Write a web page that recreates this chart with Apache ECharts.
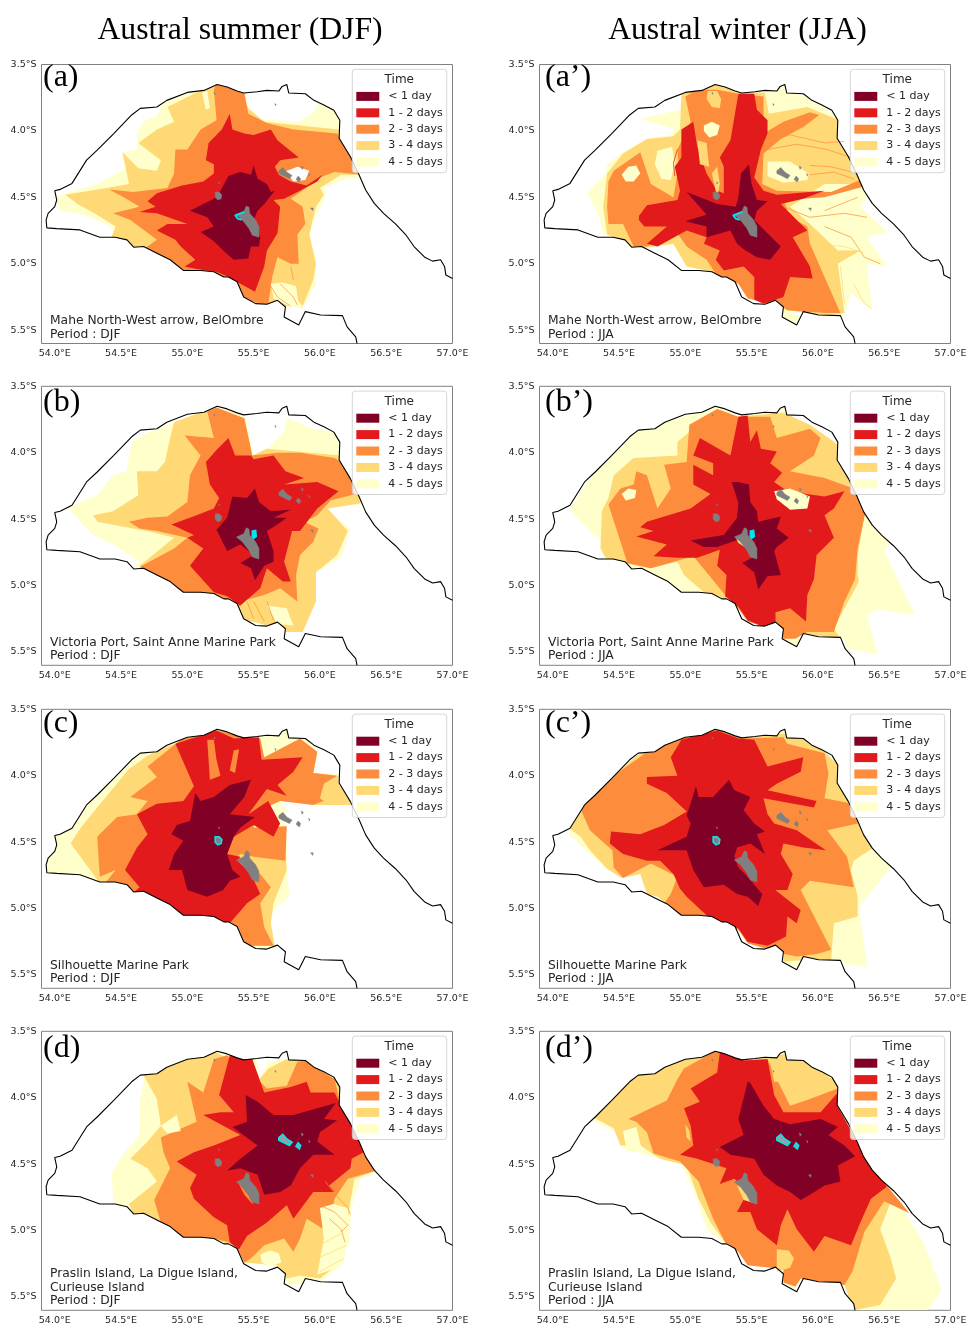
<!DOCTYPE html>
<html><head><meta charset="utf-8">
<script src="https://cdn.jsdelivr.net/npm/echarts@6/dist/echarts.min.js"></script>
<style>html,body{margin:0;padding:0;background:#fff}#c{width:973px;height:1332px}</style>
</head><body><div id="c"></div>
<script>
// All outlines: flat lists of lon (deg E), lat (deg S)
const lonTicks=[54,54.5,55,55.5,56,56.5,57];
const latTicks=[-3.5,-4,-4.5,-5,-5.5];
const bandNames=['4 - 5 days','3 - 4 days','2 - 3 days','1 - 2 days','< 1 day'];
const bandColors=['#ffffcc','#fed976','#fd8d3c','#e31a1c','#800026'];
const legendOrder=['< 1 day','1 - 2 days','2 - 3 days','3 - 4 days','4 - 5 days'];
const WHITE=5, patchColors=bandColors.concat(['#ffffff']);

const boundary=[57,5.11,56.95,5.085,56.94,5.02,56.91,4.97,56.85,4.98,56.79,4.95,56.71,4.87,56.65,4.785,56.57,4.70,56.48,4.62,56.41,4.545,56.345,4.445,56.295,4.33,56.23,4.195,56.145,4.055,56.15,3.92,56.105,3.845,56.03,3.805,55.955,3.77,55.89,3.72,55.765,3.715,55.75,3.65,55.715,3.665,55.69,3.70,55.60,3.695,55.525,3.705,55.425,3.715,55.375,3.70,55.30,3.67,55.225,3.65,55.125,3.695,55.0,3.71,54.845,3.77,54.77,3.82,54.645,3.83,54.58,3.88,54.445,4.02,54.32,4.145,54.24,4.22,54.13,4.395,54.04,4.44,54.0,4.45,54.015,4.52,54.0,4.57,53.95,4.62,53.935,4.67,53.94,4.73,54.015,4.735,54.19,4.745,54.34,4.80,54.39,4.80,54.455,4.80,54.545,4.82,54.595,4.875,54.67,4.87,54.77,4.92,54.87,4.97,54.97,5.05,55.10,5.05,55.20,5.06,55.275,5.10,55.31,5.10,55.375,5.135,55.425,5.25,55.515,5.30,55.60,5.305,55.68,5.275,55.74,5.325,55.73,5.40,55.84,5.46,55.89,5.36,56.005,5.385,56.17,5.39,56.205,5.475,56.27,5.55,56.28,5.60];
const openWater=[57,5.6];

const mahe=[55.445,4.565,55.465,4.575,55.47,4.62,55.515,4.67,55.54,4.72,55.54,4.80,55.49,4.785,55.465,4.735,55.415,4.67,55.37,4.635,55.425,4.61];
const silhouette=[55.21,4.46,55.24,4.46,55.26,4.48,55.255,4.51,55.23,4.52,55.21,4.50];
const praslin=[55.69,4.30,55.72,4.275,55.75,4.31,55.79,4.335,55.77,4.36,55.73,4.34,55.69,4.32];
const laDigue=[55.835,4.34,55.855,4.36,55.845,4.385,55.82,4.365];
const northIsland=[55.235,4.385,55.245,4.39,55.24,4.40];
const felicite=[55.86,4.265,55.875,4.275,55.865,4.29];
const marianne=[55.915,4.32,55.925,4.33,55.92,4.34];
const fregate=[55.93,4.58,55.95,4.58,55.945,4.60];
const birdIsland=[55.20,3.71,55.21,3.715,55.205,3.725];
const denisIsland=[55.66,3.795,55.67,3.80,55.665,3.81];
const islands=[mahe,silhouette,praslin,laDigue,northIsland,felicite,marianne,fregate,birdIsland,denisIsland];

const srcMahe=[55.43,4.61,55.36,4.635,55.38,4.66,55.41,4.67];
const srcVictoria=[55.49,4.59,55.515,4.585,55.52,4.63,55.50,4.645,55.49,4.63];

// (a) Mahe DJF
const a5=[53.99,4.50,54.34,4.39,54.57,4.26,54.51,4.16,54.62,4.14,54.62,4.01,54.68,3.92,54.77,3.89,54.82,3.77,55.0,3.68,55.22,3.62,55.44,3.69,55.45,3.81,55.53,3.91,55.68,3.92,55.85,3.93,55.97,3.84,55.99,3.77,56.11,3.82,56.18,3.92,56.18,4.07,56.36,4.35,56.21,4.36,56.04,4.42,56.04,4.50,55.98,4.62,55.92,4.78,55.97,4.97,55.97,5.15,55.87,5.34,55.78,5.32,55.68,5.32,55.55,5.35,55.40,5.30,55.32,5.15,55.10,5.10,54.95,5.07,54.59,4.92,54.46,4.82,54.42,4.72,54.22,4.63,54.04,4.60,54.0,4.51];
const a4=[54.08,4.48,54.39,4.43,54.56,4.40,54.51,4.16,54.63,4.28,54.77,4.30,54.80,4.22,54.63,4.09,54.77,3.99,54.90,3.93,54.85,3.82,55.07,3.71,55.22,3.66,55.41,3.71,55.46,3.83,55.58,3.93,55.85,3.96,56.14,3.99,56.22,4.14,56.33,4.33,56.16,4.33,56.0,4.43,56.03,4.48,55.97,4.57,55.92,4.78,55.97,5.0,55.95,5.12,55.87,5.32,55.82,5.26,55.75,5.32,55.6,5.32,55.40,5.30,55.32,5.15,55.1,5.1,54.97,5.06,54.59,4.92,54.42,4.82,54.46,4.72,54.30,4.62,54.17,4.55];
const a3=[54.41,4.44,54.59,4.46,54.85,4.43,54.90,4.32,54.91,4.14,55.0,4.14,55.10,3.99,55.22,3.92,55.2,3.69,55.22,3.64,55.43,3.71,55.46,3.87,55.6,3.94,55.8,3.99,56.13,4.02,56.26,4.21,56.32,4.33,56.11,4.31,56.0,4.35,55.84,4.47,55.78,4.51,55.87,4.57,55.89,4.70,55.83,4.78,55.84,5.0,55.78,5.0,55.68,4.95,55.64,5.10,55.61,5.31,55.43,5.27,55.35,5.12,55.1,5.07,54.97,5.06,54.87,4.98,54.67,4.89,54.77,4.82,54.57,4.67,54.44,4.62,54.64,4.57,54.52,4.50];
const a2=[54.70,4.53,54.77,4.47,54.96,4.41,55.12,4.38,55.2,4.32,55.2,4.25,55.14,4.22,55.16,4.09,55.26,3.99,55.32,3.87,55.34,3.99,55.43,4.02,55.5,4.03,55.63,3.99,55.68,4.07,55.74,4.12,55.84,4.20,55.70,4.22,55.66,4.27,55.69,4.33,55.78,4.38,55.9,4.41,56.02,4.33,55.98,4.38,55.85,4.45,55.73,4.51,55.65,4.52,55.70,4.57,55.68,4.77,55.6,4.90,55.58,5.02,55.51,5.21,55.4,5.15,55.31,5.10,55.22,5.06,55.07,5.04,54.98,5.02,55.06,4.97,54.95,4.87,54.91,4.82,54.77,4.75,54.85,4.70,55.0,4.70,54.77,4.62,54.64,4.61,54.76,4.57];
const a1=[55.02,4.60,55.12,4.55,55.2,4.51,55.25,4.45,55.31,4.34,55.4,4.31,55.48,4.33,55.5,4.26,55.53,4.36,55.6,4.40,55.63,4.46,55.66,4.45,55.58,4.55,55.53,4.60,55.5,4.67,55.55,4.80,55.54,4.87,55.48,4.87,55.46,4.96,55.35,4.97,55.27,4.90,55.2,4.83,55.1,4.76,55.2,4.72,55.15,4.65];
const aPatches=[[WHITE,[55.73,4.31,55.83,4.27,55.92,4.30,55.89,4.37,55.80,4.38,55.76,4.33]],[0,[55.11,3.71,55.15,3.70,55.17,3.83,55.14,3.84]],[0,[55.63,5.15,55.72,5.14,55.82,5.17,55.84,5.31,55.75,5.31,55.65,5.26]]];
const aStrands=[[2,[55.63,5.17,55.68,5.25,55.78,5.32]],[2,[55.70,5.15,55.80,5.25,55.83,5.31]],[2,[55.80,5.12,55.78,5.02]]];
// (a') Mahe JJA
const ap5=[54.26,4.46,54.40,4.32,54.41,4.25,54.53,4.16,54.71,4.06,54.89,4.03,54.92,3.99,54.66,3.91,54.96,3.84,54.97,3.74,55.09,3.67,55.24,3.64,55.44,3.71,55.62,3.71,55.74,3.64,55.77,3.71,55.89,3.73,56.05,3.82,56.16,3.92,56.16,4.06,56.26,4.22,56.34,4.40,56.37,4.50,56.32,4.57,56.52,4.76,56.37,4.80,56.52,5.02,56.37,5.0,56.41,5.35,56.25,5.22,56.20,5.37,56.17,5.40,55.77,5.35,55.87,5.40,55.83,5.46,55.74,5.40,55.72,5.32,55.62,5.30,55.47,5.26,55.40,5.15,55.29,5.10,55.16,5.05,55.01,5.02,54.91,4.86,54.79,4.87,54.61,4.89,54.53,4.82,54.38,4.78,54.35,4.65];
const ap4=[54.38,4.57,54.41,4.32,54.53,4.17,54.71,4.06,54.91,4.04,54.96,3.99,54.97,3.73,55.09,3.67,55.24,3.64,55.40,3.71,55.60,3.71,55.63,3.87,55.92,3.82,56.16,3.92,56.16,4.06,56.34,4.40,56.05,4.40,55.79,4.57,55.94,4.70,56.15,4.90,56.32,4.90,56.15,5.0,56.20,5.37,56.05,5.39,55.77,5.35,55.72,5.32,55.47,5.26,55.40,5.15,55.16,5.05,55.01,5.02,54.91,4.85,54.61,4.89,54.53,4.82,54.41,4.78];
const ap3=[54.41,4.57,54.42,4.38,54.46,4.30,54.66,4.16,54.74,4.40,54.91,4.50,54.95,4.27,54.94,4.14,55.04,3.93,55.0,3.74,55.09,3.69,55.24,3.69,55.40,3.72,55.59,3.74,55.59,4.02,55.74,3.93,55.94,3.86,56.01,3.88,55.89,3.97,55.72,4.06,55.59,4.17,55.58,4.40,55.69,4.45,56.10,4.46,56.34,4.36,56.34,4.42,56.05,4.50,55.74,4.52,55.79,4.65,55.92,4.72,55.94,4.85,56.05,5.10,56.17,5.37,56.05,5.37,55.77,5.35,55.72,5.32,55.47,5.26,55.40,5.15,55.24,5.09,55.16,4.97,55.01,4.87,54.94,4.77,54.81,4.82,54.71,4.87,54.61,4.87,54.53,4.70,54.42,4.70];
const ap2=[54.65,4.64,54.71,4.56,54.94,4.52,54.96,4.45,54.92,4.27,54.97,4.20,54.97,3.99,55.06,3.93,55.09,4.12,55.16,4.32,55.24,4.45,55.29,4.47,55.29,4.27,55.26,4.20,55.34,4.07,55.40,3.72,55.52,3.72,55.54,3.84,55.62,3.92,55.62,4.02,55.57,4.14,55.52,4.35,55.59,4.45,55.69,4.48,56.05,4.45,55.89,4.51,55.72,4.55,55.79,4.62,55.92,4.75,55.81,4.80,55.94,5.02,55.96,5.11,55.79,5.10,55.74,5.25,55.59,5.30,55.52,5.27,55.52,5.10,55.44,5.02,55.29,5.05,55.23,4.97,55.26,4.90,55.14,4.85,55.16,4.80,55.01,4.75,54.79,4.87,54.71,4.85,54.86,4.72,54.69,4.72,54.65,4.67];
const ap1=[55.0,4.68,55.16,4.63,55.01,4.46,55.24,4.55,55.38,4.57,55.40,4.50,55.42,4.32,55.48,4.25,55.50,4.40,55.54,4.52,55.62,4.53,55.54,4.60,55.52,4.67,55.62,4.77,55.72,4.87,55.64,4.97,55.54,4.95,55.44,4.89,55.39,4.85,55.34,4.75,55.16,4.80,55.16,4.72];
const apPatches=[[0,[55.62,4.23,55.79,4.23,55.93,4.32,55.92,4.37,55.74,4.39,55.62,4.34]],[1,[55.17,3.70,55.24,3.70,55.27,3.76,55.26,3.83,55.20,3.82,55.16,3.76]],[0,[55.14,3.96,55.20,3.93,55.26,3.96,55.24,4.03,55.18,4.05,55.14,4.0]],[1,[55.09,4.07,55.16,4.09,55.18,4.27,55.11,4.25]],[1,[55.24,4.27,55.26,4.40,55.24,4.50,55.20,4.32]],[0,[54.52,4.33,54.57,4.27,54.63,4.26,54.66,4.32,54.61,4.38,54.55,4.38]],[0,[54.77,4.25,54.79,4.15,54.90,4.12,54.92,4.25,54.89,4.37,54.82,4.36]]];
const apStrands=[[2,[55.59,4.08,55.79,4.03,56.05,4.09,56.20,4.08]],[2,[55.62,4.14,55.84,4.10,56.07,4.14,56.25,4.20]],[2,[55.94,4.26,56.10,4.27,56.30,4.32]],[2,[55.94,4.33,56.12,4.31,56.27,4.36]],[2,[55.74,4.57,55.94,4.65,56.20,4.62,56.37,4.65]],[2,[56.05,4.72,56.25,4.80,56.35,4.95,56.47,5.0]],[1,[55.94,4.85,56.20,4.87,56.35,4.92]],[1,[56.17,5.02,56.20,5.30]],[1,[56.27,5.15,56.35,5.30,56.40,5.33]],[2,[56.05,4.60,56.30,4.50]],[3,[54.94,4.14,54.91,4.24,54.92,4.34]]];
// (b) Victoria DJF
const b5=[54.10,4.41,54.32,4.32,54.44,4.17,54.54,4.14,54.58,3.92,54.70,3.85,54.90,3.77,55.15,3.67,55.22,3.65,55.44,3.73,55.50,4.04,55.60,3.97,55.73,3.84,55.75,3.74,55.95,3.82,56.11,3.84,56.16,3.97,56.29,4.32,56.31,4.39,56.03,4.42,56.23,4.57,56.16,4.79,55.97,4.90,55.97,5.12,55.85,5.35,55.75,5.35,55.60,5.28,55.43,5.26,55.38,5.15,54.97,5.05,54.85,4.97,54.59,4.85,54.64,4.82,54.44,4.69,54.29,4.62,54.19,4.52];
const b4=[54.29,4.47,54.44,4.44,54.63,4.32,54.62,4.14,54.77,4.14,54.83,4.07,54.87,3.89,54.90,3.77,55.12,3.69,55.22,3.67,55.43,3.74,55.49,4.02,55.60,3.97,56.16,4.02,56.26,4.22,56.31,4.38,56.06,4.42,56.21,4.59,56.13,4.77,55.97,4.90,55.97,5.12,55.87,5.35,55.75,5.35,55.53,5.28,55.43,5.26,55.38,5.15,54.97,5.05,54.85,4.97,54.64,4.85,54.90,4.64,54.70,4.59,54.59,4.57,54.32,4.52];
const b3=[54.56,4.52,54.70,4.49,54.85,4.48,55.0,4.37,55.02,4.17,55.10,4.02,54.98,3.87,55.20,3.89,55.15,3.69,55.22,3.66,55.43,3.74,55.49,4.02,55.68,4.0,55.85,4.0,56.11,4.04,56.16,4.07,56.26,4.22,56.27,4.31,56.08,4.36,55.98,4.47,55.88,4.52,55.99,4.57,55.95,4.67,55.85,4.77,55.82,4.92,55.83,5.12,55.70,5.02,55.58,5.07,55.40,5.12,55.40,5.16,55.22,5.10,54.97,5.05,54.85,4.98,54.64,4.86,54.90,4.72,55.0,4.64,54.77,4.59,54.64,4.57];
const b2=[54.88,4.54,55.07,4.47,55.20,4.42,55.24,4.34,55.17,4.24,55.14,4.07,55.22,3.98,55.31,3.89,55.36,4.02,55.48,4.02,55.50,4.05,55.65,4.02,55.74,4.14,55.88,4.19,55.73,4.24,55.98,4.22,56.14,4.29,55.98,4.42,55.85,4.59,55.79,4.59,55.73,4.82,55.78,4.97,55.72,4.97,55.60,4.87,55.55,5.02,55.40,5.15,55.30,5.08,55.20,5.05,55.02,4.85,55.12,4.72,55.0,4.64,55.05,4.62];
const b1=[55.22,4.58,55.30,4.49,55.34,4.33,55.45,4.34,55.51,4.27,55.54,4.37,55.63,4.44,55.78,4.43,55.65,4.49,55.75,4.49,55.68,4.54,55.60,4.59,55.65,4.74,55.65,4.82,55.58,4.85,55.51,4.96,55.48,4.87,55.40,4.83,55.50,4.77,55.40,4.69,55.30,4.74];
const bPatches=[[0,[55.60,5.15,55.75,5.17,55.80,5.30,55.68,5.29]]];
const bStrands=[[2,[55.50,5.12,55.58,5.27]],[2,[55.45,5.12,55.50,5.25]],[2,[55.60,5.12,55.65,5.26]]];
// (b') Victoria JJA
const bp5=[54.13,4.42,54.28,4.19,54.63,3.84,54.94,3.74,55.24,3.65,55.40,3.73,55.74,3.65,55.78,3.73,55.94,3.79,56.15,3.93,56.15,4.08,56.27,4.27,56.37,4.47,56.55,4.67,56.50,4.74,56.73,5.22,56.45,5.18,56.37,5.22,56.45,5.52,56.21,5.47,56.20,5.40,55.84,5.37,55.87,5.42,55.83,5.46,55.74,5.40,55.72,5.35,55.62,5.30,55.47,5.27,55.40,5.17,55.29,5.12,55.14,5.07,54.97,5.05,54.86,4.97,54.71,4.90,54.48,4.85,54.38,4.79,54.36,4.67,54.18,4.49];
const bp4=[54.36,4.72,54.37,4.44,54.42,4.34,54.46,4.17,54.61,4.04,54.94,4.02,54.94,3.92,55.24,3.67,55.39,3.73,55.74,3.70,55.94,3.79,56.15,3.94,56.15,4.07,56.27,4.27,56.36,4.42,56.30,4.77,56.30,4.92,56.31,4.97,56.12,5.32,56.17,5.40,55.84,5.36,55.74,5.40,55.72,5.35,55.47,5.27,55.40,5.17,55.29,5.10,55.14,5.05,54.99,4.92,54.94,4.82,54.74,4.87,54.53,4.83,54.40,4.79];
const bp3=[54.56,4.82,54.42,4.39,54.51,4.27,54.61,4.24,54.63,4.14,54.71,4.17,54.79,4.42,54.89,4.27,54.84,4.09,55.01,4.07,55.03,3.79,55.24,3.67,55.40,3.73,55.64,3.73,55.69,3.89,55.94,3.82,56.02,3.89,55.97,4.02,55.79,4.14,56.05,4.19,56.27,4.27,56.36,4.44,56.30,4.72,56.28,4.95,56.20,5.12,56.12,5.35,55.92,5.35,55.83,5.40,55.74,5.40,55.72,5.35,55.47,5.27,55.40,5.17,55.30,5.07,55.16,4.90,55.06,4.78,54.74,4.87,54.56,4.83];
const bp2=[54.66,4.56,54.71,4.52,55.04,4.42,55.19,4.31,55.06,4.24,55.06,4.09,55.21,4.17,55.21,4.08,55.06,4.02,55.11,3.89,55.34,4.02,55.40,3.73,55.47,3.72,55.49,3.92,55.54,3.83,55.57,3.97,55.69,3.99,55.64,4.08,55.73,4.15,55.67,4.22,55.77,4.29,56.05,4.33,56.20,4.29,56.12,4.42,56.05,4.47,56.12,4.64,55.99,4.77,55.97,4.95,55.92,5.07,55.91,5.27,55.79,5.17,55.68,5.20,55.68,5.28,55.59,5.31,55.47,5.26,55.40,5.16,55.30,5.08,55.31,4.92,55.24,4.85,55.26,4.73,55.09,4.79,54.94,4.79,54.76,4.78,54.86,4.69,54.63,4.63,54.76,4.59];
const bp1=[55.04,4.66,55.29,4.62,55.39,4.49,55.40,4.38,55.35,4.22,55.40,4.22,55.48,4.24,55.49,4.37,55.54,4.44,55.55,4.52,55.72,4.48,55.69,4.57,55.78,4.64,55.69,4.71,55.67,4.74,55.72,4.92,55.62,4.93,55.55,5.03,55.52,4.90,55.43,4.83,55.54,4.77,55.52,4.67,55.38,4.66,55.24,4.71,55.14,4.71];
const bpPatches=[[0,[55.67,4.29,55.79,4.27,55.94,4.33,55.92,4.42,55.79,4.43,55.69,4.35]],[0,[54.52,4.31,54.57,4.27,54.63,4.28,54.62,4.34,54.55,4.36]],[1,[55.38,4.64,55.47,4.69,55.48,4.73,55.40,4.68]]];
const bpStrands=[];
// (c) Silhouette DJF
const c5=[53.91,4.76,53.91,4.59,54.02,4.41,54.22,4.24,54.44,4.01,54.64,3.82,55.0,3.68,55.22,3.63,55.40,3.70,55.60,3.67,55.75,3.63,55.78,3.71,55.89,3.71,55.98,3.82,55.95,3.98,56.14,3.98,56.14,4.06,56.26,4.22,55.98,4.22,55.70,4.19,55.75,4.26,55.73,4.36,55.75,4.51,55.75,4.71,55.77,4.91,55.65,5.01,55.61,5.14,55.66,5.28,55.60,5.31,55.44,5.28,55.38,5.14,55.20,5.08,54.97,5.06,54.77,4.94,54.59,4.89,54.34,4.81,53.96,4.74];
const c4=[54.34,4.81,54.12,4.51,54.19,4.40,54.32,4.24,54.56,3.95,54.70,3.85,54.85,3.78,55.22,3.65,55.40,3.70,55.55,3.73,55.58,3.87,55.85,3.73,55.98,3.83,55.95,3.98,56.14,4.0,56.14,4.06,56.24,4.22,55.98,4.22,55.68,4.16,55.53,4.27,55.40,4.39,55.73,4.41,55.75,4.71,55.65,4.96,55.63,5.11,55.66,5.28,55.44,5.28,55.38,5.14,54.97,5.06,54.77,4.94,54.59,4.89,54.39,4.82];
const c3=[54.34,4.76,54.32,4.46,54.47,4.31,54.62,4.29,54.70,4.19,54.57,4.16,54.77,4.01,54.70,3.93,54.85,3.81,54.95,3.73,55.22,3.66,55.40,3.70,55.55,3.72,55.58,3.86,55.85,3.72,55.98,3.82,55.95,3.98,56.13,4.0,56.03,4.06,56.0,4.17,56.03,4.19,55.95,4.22,55.70,4.19,55.53,4.27,55.50,4.39,55.75,4.38,55.74,4.64,55.50,4.61,55.40,4.59,55.35,4.64,55.55,4.74,55.63,4.84,55.55,4.96,55.58,5.14,55.65,5.28,55.44,5.28,55.38,5.14,54.97,5.05,54.77,4.94,54.59,4.89,54.37,4.82,54.46,4.71];
const c2=[54.53,4.71,54.62,4.54,54.70,4.44,54.62,4.29,54.77,4.21,54.97,4.19,55.05,4.08,54.91,3.76,55.10,3.70,55.22,3.66,55.35,3.72,55.54,3.71,55.56,3.88,55.87,3.86,55.80,3.97,55.68,4.07,55.75,4.15,55.60,4.10,55.46,4.29,55.61,4.19,55.70,4.36,55.65,4.46,55.50,4.37,55.35,4.46,55.30,4.59,55.40,4.61,55.38,4.64,55.48,4.74,55.55,4.89,55.45,4.96,55.32,5.11,55.20,5.08,54.97,5.05,54.77,4.94,54.59,4.88,54.64,4.84];
const c1=[54.86,4.71,54.90,4.59,54.97,4.49,54.88,4.44,54.92,4.37,55.02,4.34,55.06,4.13,55.10,4.19,55.20,4.16,55.32,4.07,55.48,4.03,55.43,4.16,55.32,4.29,55.51,4.31,55.40,4.39,55.35,4.46,55.30,4.59,55.34,4.71,55.40,4.76,55.32,4.79,55.27,4.86,55.15,4.91,55.0,4.86,54.96,4.71];
const cPatches=[[2,[55.15,3.73,55.20,3.73,55.22,3.88,55.25,4.0,55.17,4.03]],[2,[55.35,3.81,55.39,3.80,55.36,3.98,55.32,3.96]]];
const cStrands=[];
// (c') Silhouette JJA
const cp5=[54.13,4.40,54.26,4.21,54.43,4.03,54.63,3.85,54.94,3.73,55.24,3.65,55.42,3.72,55.74,3.65,55.77,3.72,55.89,3.72,56.05,3.82,56.16,3.92,56.16,4.07,56.26,4.21,56.35,4.41,56.45,4.59,56.55,4.69,56.31,4.99,56.37,5.44,56.17,5.41,55.84,5.39,55.87,5.41,55.84,5.46,55.74,5.40,55.74,5.34,55.62,5.29,55.47,5.26,55.40,5.16,55.29,5.11,55.14,5.05,54.97,5.05,54.79,4.91,54.71,4.89,54.66,4.74,54.53,4.77,54.41,4.71,54.28,4.59,54.13,4.45];
const cp4=[54.13,4.40,54.27,4.18,54.43,4.03,54.63,3.85,54.94,3.73,55.24,3.65,55.42,3.72,55.76,3.68,55.89,3.72,56.05,3.82,56.16,3.93,56.16,4.07,56.26,4.22,56.34,4.40,56.42,4.54,56.27,4.64,56.25,4.71,56.30,4.91,56.30,5.06,56.12,5.11,56.10,5.39,55.84,5.39,55.74,5.40,55.74,5.34,55.47,5.26,55.40,5.16,55.14,5.05,54.97,5.05,54.79,4.91,54.71,4.89,54.66,4.74,54.52,4.77,54.41,4.70,54.28,4.56,54.21,4.46];
const cp3=[54.45,4.56,54.28,4.41,54.21,4.25,54.31,4.10,54.53,3.95,54.74,3.80,54.94,3.73,55.24,3.65,55.42,3.72,55.74,3.71,55.77,3.76,56.05,3.83,56.08,3.98,56.05,4.17,56.26,4.21,56.30,4.36,56.07,4.41,56.22,4.61,56.27,4.84,55.94,4.79,55.87,4.86,56.10,5.31,56.0,5.34,55.84,5.36,55.74,5.34,55.47,5.26,55.40,5.16,55.14,5.05,54.97,5.05,54.84,4.96,54.89,4.89,54.94,4.76,54.74,4.66,54.53,4.77,54.46,4.69];
const cp2=[54.44,4.42,54.66,4.44,54.84,4.37,55.01,4.27,54.86,4.13,54.71,4.06,54.71,4.01,54.94,4.0,54.89,3.86,54.97,3.73,55.24,3.66,55.40,3.72,55.52,3.73,55.62,3.93,55.89,3.86,55.87,3.97,55.69,4.06,55.62,4.11,55.99,4.19,55.97,4.24,55.59,4.17,55.62,4.29,55.67,4.36,55.84,4.41,56.06,4.56,55.89,4.54,55.74,4.51,55.72,4.59,55.81,4.74,55.77,4.86,55.67,4.86,55.59,4.79,55.87,5.01,55.84,5.11,55.77,5.06,55.76,5.21,55.62,5.28,55.47,5.25,55.40,5.15,55.29,5.11,55.16,5.05,55.01,4.91,54.96,4.85,54.91,4.74,54.81,4.64,54.71,4.64,54.53,4.59,54.43,4.51];
const cp1=[54.79,4.56,55.01,4.46,55.04,4.36,55.01,4.30,55.08,4.08,55.10,4.16,55.21,4.16,55.33,4.03,55.37,4.11,55.49,4.16,55.44,4.26,55.52,4.36,55.60,4.42,55.54,4.44,55.60,4.59,55.49,4.51,55.39,4.54,55.37,4.61,55.40,4.69,55.45,4.74,55.52,4.82,55.58,4.89,55.55,4.98,55.47,4.91,55.39,4.89,55.29,4.82,55.14,4.84,55.06,4.71,55.01,4.56];
const cpPatches=[];
const cpStrands=[];
// (d) Praslin DJF
const d5=[54.44,4.76,54.43,4.56,54.53,4.41,54.64,4.28,54.64,4.03,54.68,3.83,55.0,3.71,55.22,3.64,55.35,3.68,55.53,3.71,55.54,3.86,55.61,3.73,55.73,3.71,55.89,3.72,56.0,3.79,56.11,3.83,56.16,3.96,56.16,4.06,56.26,4.21,56.35,4.43,56.42,4.56,56.31,4.61,56.24,4.81,56.23,4.96,56.18,5.24,56.0,5.39,55.75,5.41,55.74,5.32,55.68,5.27,55.43,5.24,55.38,5.14,55.20,5.06,54.97,5.05,54.77,4.92,54.59,4.87,54.44,4.81];
const d4=[54.56,4.80,54.77,4.63,54.70,4.53,54.57,4.46,54.70,4.33,54.80,4.21,54.77,4.01,54.67,3.83,54.85,3.77,55.0,3.71,55.22,3.66,55.35,3.73,55.53,3.88,55.61,3.78,55.75,3.71,55.89,3.72,56.0,3.81,56.11,3.83,56.16,3.96,56.16,4.06,56.26,4.21,56.35,4.43,56.42,4.55,56.26,4.61,56.23,4.78,56.21,4.91,56.13,5.26,56.0,5.36,55.85,5.34,55.75,5.36,55.68,5.26,55.43,5.24,55.38,5.14,55.20,5.06,54.97,5.05,54.77,4.92,54.59,4.87];
const d3=[54.75,4.77,54.87,4.53,54.82,4.41,54.80,4.30,55.07,4.18,55.0,3.88,55.12,3.96,55.20,3.71,55.30,3.68,55.53,3.86,55.60,3.93,55.75,3.91,55.83,3.73,55.89,3.72,56.0,3.79,56.11,3.86,56.16,4.06,56.26,4.21,56.35,4.43,56.42,4.55,56.21,4.61,56.11,4.76,56.06,5.01,55.98,4.96,55.90,4.91,55.85,5.06,55.80,5.16,55.73,5.06,55.58,5.11,55.48,5.21,55.43,5.24,55.38,5.14,55.32,5.09,55.20,5.06,54.97,5.05,54.80,4.94];
const d2=[54.92,4.48,55.05,4.41,55.20,4.36,55.40,4.28,55.12,4.13,55.25,4.11,55.35,4.11,55.24,3.98,55.32,3.68,55.48,3.68,55.58,3.96,55.78,3.92,55.90,3.88,55.93,3.96,56.11,3.96,56.16,4.06,56.26,4.21,56.33,4.41,56.24,4.46,56.23,4.53,56.07,4.66,56.11,4.71,55.95,4.71,55.80,4.91,55.75,4.81,55.60,4.94,55.45,5.04,55.39,5.14,55.32,5.09,55.30,4.96,55.20,4.90,55.05,4.76,55.02,4.68,55.07,4.58];
const d1=[55.30,4.55,55.40,4.46,55.53,4.36,55.34,4.22,55.45,4.18,55.44,3.98,55.53,4.03,55.65,4.13,55.80,4.13,55.98,4.08,56.12,4.04,56.03,4.16,56.13,4.17,56.0,4.26,55.98,4.33,56.11,4.43,55.95,4.43,55.85,4.53,55.78,4.66,55.70,4.71,55.58,4.73,55.53,4.58,55.40,4.53];
const dPatches=[[0,[54.80,4.21,54.92,4.13,54.95,4.25,54.85,4.27]],[0,[55.55,5.18,55.62,5.15,55.69,5.17,55.71,5.24,55.62,5.27,55.56,5.24]],[2,[55.38,4.63,55.46,4.73,55.50,4.81,55.43,4.73]],[0,[56.0,4.83,56.10,4.80,56.21,4.83,56.23,5.06,56.13,5.28,55.98,5.33,56.03,5.06]]];
const dStrands=[[2,[56.04,4.63,56.11,4.72,56.21,4.83,56.23,4.88]],[2,[56.0,4.81,56.11,4.86,56.21,4.96,56.16,5.01]],[2,[56.07,4.91,56.16,4.99,56.19,5.09]],[1,[56.0,5.11,56.18,5.01]],[1,[55.98,5.21,56.20,5.11]],[1,[56.0,5.31,56.18,5.21]]];
// (d') Praslin JJA
const dp5=[54.28,4.16,54.63,3.83,54.94,3.68,55.24,3.64,55.44,3.72,55.74,3.66,55.77,3.72,55.94,3.73,56.15,3.88,56.15,4.06,56.34,4.41,56.52,4.66,56.68,4.90,56.80,5.10,56.90,5.36,56.93,5.45,56.83,5.60,56.30,5.60,56.25,5.51,56.20,5.41,55.87,5.36,55.83,5.44,55.74,5.39,55.74,5.29,55.47,5.26,55.40,5.16,55.29,5.09,55.16,4.99,55.09,4.76,54.96,4.48,54.81,4.46,54.53,4.38,54.51,4.28,54.38,4.21];
const dp4=[54.29,4.14,54.63,3.83,54.94,3.71,55.24,3.64,55.44,3.72,55.74,3.67,55.94,3.74,56.15,3.89,56.15,4.07,56.34,4.41,56.52,4.66,56.55,4.78,56.47,4.99,56.55,5.21,56.59,5.36,56.47,5.56,56.27,5.60,56.20,5.41,55.87,5.36,55.83,5.42,55.74,5.39,55.74,5.29,55.47,5.26,55.40,5.16,55.30,5.09,55.19,4.94,55.10,4.76,55.01,4.51,54.81,4.46,54.66,4.36,54.51,4.36,54.46,4.23];
const dp3=[54.57,4.16,54.86,4.02,54.94,3.86,54.99,3.78,55.24,3.64,55.44,3.72,55.62,3.71,55.69,3.86,55.79,4.06,55.94,4.01,56.15,3.93,56.15,4.07,56.34,4.41,56.52,4.66,56.69,4.87,56.50,4.78,56.35,5.01,56.26,5.31,56.20,5.41,55.87,5.36,55.83,5.42,55.74,5.39,55.74,5.29,55.47,5.26,55.40,5.16,55.30,5.09,55.21,4.91,55.10,4.63,54.96,4.48,54.76,4.42,54.71,4.26,54.63,4.18];
const dp2=[54.96,4.43,55.06,4.36,55.04,4.21,54.99,4.08,55.11,4.03,55.04,3.93,55.24,3.81,55.26,3.66,55.44,3.72,55.62,3.71,55.67,3.98,55.74,4.11,56.02,4.11,56.15,3.96,56.15,4.07,56.34,4.41,56.52,4.67,56.40,4.76,56.32,4.94,56.25,5.11,56.05,5.04,55.97,5.16,55.84,4.99,55.77,4.84,55.72,4.96,55.69,5.11,55.54,4.99,55.49,4.86,55.39,4.86,55.47,4.71,55.37,4.61,55.26,4.65,55.31,4.53,55.09,4.46];
const dp1=[55.26,4.37,55.44,4.28,55.40,4.16,55.47,3.88,55.49,3.89,55.59,4.06,55.67,4.16,55.79,4.20,56.02,4.16,56.15,4.22,56.08,4.28,56.20,4.36,56.28,4.44,56.15,4.51,56.17,4.63,56.05,4.66,55.94,4.73,55.87,4.77,55.79,4.71,55.69,4.66,55.59,4.58,55.52,4.46,55.34,4.43];
const dpPatches=[[1,[55.69,5.14,55.78,5.15,55.82,5.21,55.79,5.28,55.69,5.31]],[1,[55.64,3.73,55.79,3.73,55.84,3.89,55.67,3.88]],[1,[55.0,4.20,55.03,4.25,55.04,4.33,55.01,4.30]],[0,[54.53,4.25,54.63,4.22,54.67,4.38,54.56,4.41]],[1,[55.39,4.66,55.52,4.72,55.54,4.80,55.44,4.77]]];
const dpStrands=[];

const columnTitles=['Austral summer (DJF)','Austral winter (JJA)'];
const siteLines={
 mahe:['Mahe North-West arrow, BelOmbre'],
 victoria:['Victoria Port, Saint Anne Marine Park'],
 silhouette:['Silhouette Marine Park'],
 praslin:['Praslin Island, La Digue Island,','Curieuse Island']};
const panels=[
 {tag:'(a)',site:'mahe',period:'DJF',col:0,row:0,bands:[a5,a4,a3,a2,a1],patches:aPatches,strands:aStrands},
 {tag:'(a’)',site:'mahe',period:'JJA',col:1,row:0,bands:[ap5,ap4,ap3,ap2,ap1],patches:apPatches,strands:apStrands},
 {tag:'(b)',site:'victoria',period:'DJF',col:0,row:1,bands:[b5,b4,b3,b2,b1],patches:bPatches,strands:bStrands},
 {tag:'(b’)',site:'victoria',period:'JJA',col:1,row:1,bands:[bp5,bp4,bp3,bp2,bp1],patches:bpPatches,strands:bpStrands},
 {tag:'(c)',site:'silhouette',period:'DJF',col:0,row:2,bands:[c5,c4,c3,c2,c1],patches:cPatches,strands:cStrands},
 {tag:'(c’)',site:'silhouette',period:'JJA',col:1,row:2,bands:[cp5,cp4,cp3,cp2,cp1],patches:cpPatches,strands:cpStrands},
 {tag:'(d)',site:'praslin',period:'DJF',col:0,row:3,bands:[d5,d4,d3,d2,d1],patches:dPatches,strands:dStrands},
 {tag:'(d’)',site:'praslin',period:'JJA',col:1,row:3,bands:[dp5,dp4,dp3,dp2,dp1],patches:dpPatches,strands:dpStrands}];
const sourceRings={mahe:[],victoria:[srcVictoria],silhouette:[silhouette],praslin:[praslin,laDigue]};
const sourceFill={victoria:'#00e5ee',silhouette:'#808080',praslin:'#9aa0a0'};

// layout
const colLeft=[41.5,539.5], rowTop=[64.5,386.3,709.3,1031.3], plotW=411, plotH=279;
const tagX=[43,545], tagY=[77.5,402.5,723.5,1048.5];
const pairs=f=>{const o=[];for(let i=0;i<f.length;i+=2)o.push([f[i],-f[i+1]]);return o;};
const clipVerts=pairs(boundary.concat(openWater));
const DV='"DejaVu Sans"', SERIF='"Liberation Serif"';

const grid=[],xAxis=[],yAxis=[],series=[],legend=[],graphic=[];
columnTitles.forEach((t,i)=>graphic.push({type:'text',x:[240,737.5][i],y:30.5,style:{text:t,font:'31.7px '+SERIF,fill:'#000',align:'center',verticalAlign:'middle'}}));

panels.forEach((p,i)=>{
 const L=colLeft[p.col],T=rowTop[p.row];
 grid.push({left:L,top:T,width:plotW,height:plotH,show:true,borderColor:'#808080',borderWidth:1,backgroundColor:'transparent'});
 xAxis.push({type:'value',gridIndex:i,min:53.9,max:57,splitLine:{show:false},axisLine:{show:false},axisTick:{show:false},
  axisLabel:{customValues:lonTicks,margin:5,fontFamily:DV,fontSize:9.5,color:'#262626',formatter:v=>v.toFixed(1)+'°E'}});
 yAxis.push({type:'value',gridIndex:i,min:-5.6,max:-3.5,splitLine:{show:false},axisLine:{show:false},axisTick:{show:false},
  axisLabel:{customValues:latTicks,margin:5,padding:[2,0,0,0],fontFamily:DV,fontSize:9.5,color:'#262626',formatter:v=>Math.abs(v).toFixed(1)+'°S'}});
 const clip=api=>({type:'polygon',shape:{points:clipVerts.map(v=>api.coord(v))}});
 p.bands.forEach((flat,b)=>{
  const verts=pairs(flat);
  series.push({type:'custom',name:bandNames[b],coordinateSystem:'cartesian2d',xAxisIndex:i,yAxisIndex:i,silent:true,
   itemStyle:{color:bandColors[b]},data:verts,
   renderItem:(params,api)=>{
    if(params.dataIndex!==0)return null;
    return {type:'polygon',shape:{points:verts.map(v=>api.coord(v))},style:{fill:api.visual('color')},clipPath:clip(api)};
   }});
 });
 // lenses and thin trajectory strands inside the bands
 const pVerts=p.patches.map(x=>pairs(x[1])), sVerts=p.strands.map(x=>pairs(x[1]));
 const extra=pVerts.flat().concat(sVerts.flat());
 if(extra.length){
  series.push({type:'custom',name:'detail',coordinateSystem:'cartesian2d',xAxisIndex:i,yAxisIndex:i,silent:true,data:extra,
   renderItem:(params,api)=>{
    if(params.dataIndex!==0)return null;
    const kids=pVerts.map((v,k)=>({type:'polygon',shape:{points:v.map(q=>api.coord(q))},style:{fill:patchColors[p.patches[k][0]]}}))
     .concat(sVerts.map((v,k)=>({type:'polyline',shape:{points:v.map(q=>api.coord(q))},style:{fill:null,stroke:patchColors[p.strands[k][0]],lineWidth:0.7}})));
    return {type:'group',children:kids};
   }});
 }
 // islands
 const landVerts=islands.map(pairs);
 series.push({type:'custom',name:'land',coordinateSystem:'cartesian2d',xAxisIndex:i,yAxisIndex:i,silent:true,data:landVerts.flat(),
  renderItem:(params,api)=>{
   if(params.dataIndex!==0)return null;
   return {type:'group',children:landVerts.map(v=>({type:'polygon',shape:{points:v.map(q=>api.coord(q))},style:{fill:'#808080',stroke:'#808080',lineWidth:0.5}}))};
  }});
 // release site
 const rings=sourceRings[p.site].map(pairs);
 if(rings.length){
  series.push({type:'custom',name:'source',coordinateSystem:'cartesian2d',xAxisIndex:i,yAxisIndex:i,silent:true,data:rings.flat(),
   renderItem:(params,api)=>{
    if(params.dataIndex!==0)return null;
    return {type:'group',children:rings.map(v=>({type:'polygon',shape:{points:v.map(q=>api.coord(q))},style:{fill:sourceFill[p.site],stroke:'#00e5ee',lineWidth:1.6}}))};
   }});
 } else {
  series.push({type:'line',name:'source',xAxisIndex:i,yAxisIndex:i,data:pairs(srcMahe),showSymbol:false,silent:true,lineStyle:{color:'#00e5ee',width:1.8}});
 }
 // EEZ boundary
 series.push({type:'line',name:'boundary',xAxisIndex:i,yAxisIndex:i,data:pairs(boundary),showSymbol:false,silent:true,lineStyle:{color:'#000',width:1.1}});
 // legend
 legend.push({show:true,data:legendOrder,orient:'vertical',icon:'rect',left:L+310.8,top:T+4.8,itemWidth:23,itemHeight:9,itemGap:5.4,
  padding:[21.6,4,5.2,4],backgroundColor:'rgba(255,255,255,0.8)',borderColor:'rgba(204,204,204,0.8)',borderWidth:1,borderRadius:3,selectedMode:false,
  textStyle:{fontFamily:DV,fontSize:11,color:'#262626',padding:[0,0,0,4]}});
 graphic.push({type:'text',x:L+357.8,y:T+15.5,z:20,style:{text:'Time',font:'12px '+DV,fill:'#262626',align:'center',verticalAlign:'middle'}});
 graphic.push({type:'text',x:tagX[p.col],y:tagY[p.row],z:20,style:{text:p.tag,font:'32px '+SERIF,fill:'#000',align:'left',verticalAlign:'middle'}});
 const lines=siteLines[p.site].concat(['Period : '+p.period]);
 lines.forEach((s,k)=>graphic.push({type:'text',x:L+8.5,y:T+270-13.8*(lines.length-1-k),z:20,style:{text:s,font:'12.3px '+DV,fill:'#262626',align:'left',verticalAlign:'middle'}}));
});

const chart=echarts.init(document.getElementById('c'),null,{renderer:'canvas'});
chart.setOption({animation:false,backgroundColor:'#fff',grid,xAxis,yAxis,series,legend,graphic:{elements:graphic},tooltip:{show:false}});
</script></body></html>
